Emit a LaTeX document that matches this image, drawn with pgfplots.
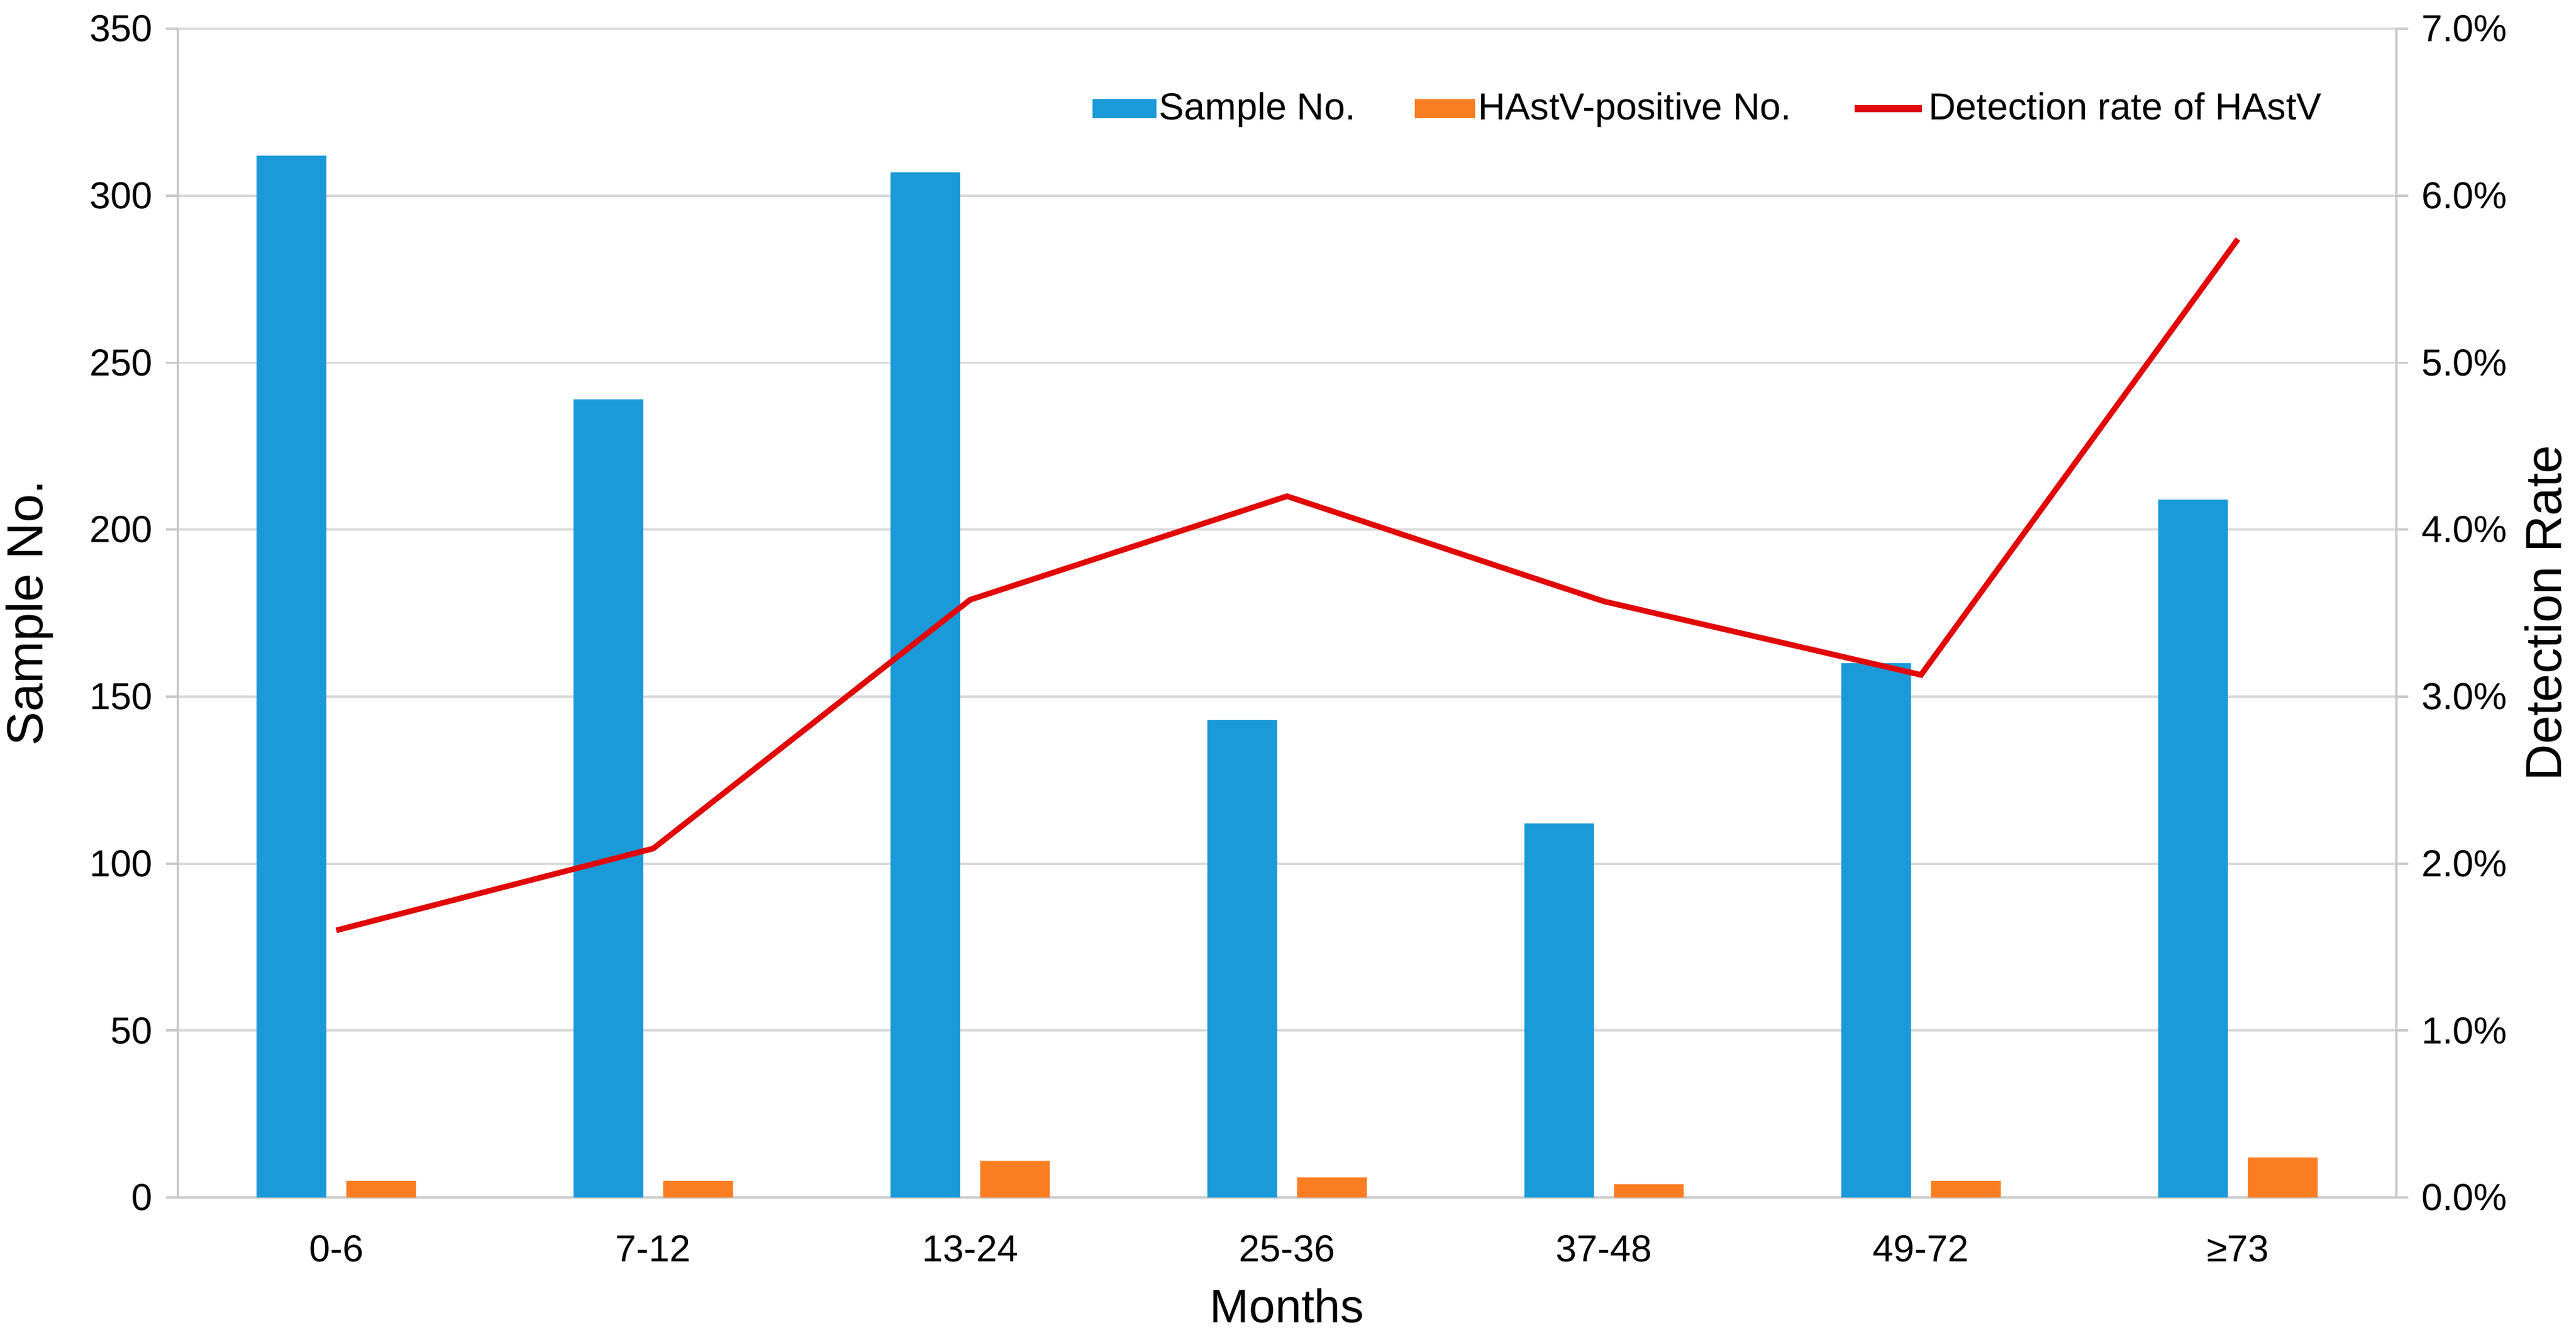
\documentclass[border=0pt]{standalone}
\usepackage{fontspec}
\setmainfont{Liberation Sans}
\usepackage{pgfplots}
\pgfplotsset{compat=1.18}
\definecolor{barblue}{RGB}{26,154,216}
\definecolor{barorange}{RGB}{250,125,34}
\definecolor{linered}{RGB}{225,8,8}
\definecolor{gridgray}{RGB}{217,217,217}
\definecolor{axisgray}{RGB}{200,200,200}
\begin{document}
\begin{tikzpicture}
\useasboundingbox (-47.30pt,-35.08pt) rectangle (637.94pt,318.42pt);
\pgfplotsset{
  base/.style={
    scale only axis, width=590.16pt, height=310.79pt,
    xmin=-0.5, xmax=6.5,
    /pgf/number format/assume math mode=true,
    tick label style={font=\fontsize{10}{12}\selectfont, text=black},
    tick align=outside, major tick length=3.2pt,
  }
}
\begin{axis}[base,
  ymin=0, ymax=350, ytick={0,50,...,350},
  axis y line*=left, axis x line*=bottom,
  axis line style={-, draw=axisgray, line width=0.6pt},
  xtick={0,...,6},
  xticklabels={0-6,7-12,13-24,25-36,37-48,49-72,≥73},
  xtick style={draw=none},
  ytick style={draw=axisgray, line width=0.6pt},
  ymajorgrids, grid style={gridgray, line width=0.6pt},
  xticklabel style={yshift=-3.3pt},
  ylabel={Sample No.},
  ylabel style={font=\fontsize{13.5}{16}\selectfont, at={(axis description cs:-0.0668,0.5)}, anchor=center},
  xlabel={Months},
  xlabel style={font=\fontsize{12.5}{15}\selectfont, at={(axis description cs:0.5,-0.0924)}, anchor=center},
]
\addplot[ybar, bar width=0.22, bar shift=-0.1415, fill=barblue, draw=none]
  coordinates {(0,312) (1,239) (2,307) (3,143) (4,112) (5,160) (6,209)};
\addplot[ybar, bar width=0.22, bar shift=0.1415, fill=barorange, draw=none]
  coordinates {(0,5) (1,5) (2,11) (3,6) (4,4) (5,5) (6,12)};
\end{axis}
\begin{axis}[base,
  ymin=0, ymax=7, ytick={0,...,7},
  axis y line*=right, axis x line=none,
  axis line style={-, draw=axisgray, line width=0.6pt},
  ytick style={draw=axisgray, line width=0.6pt},
  yticklabel={\pgfmathprintnumber[fixed,fixed zerofill,precision=1]{\tick}\%},
  ylabel={Detection Rate},
  ylabel style={font=\fontsize{13.5}{16}\selectfont, at={(axis description cs:1.0661,0.5)}, anchor=center},
  legend columns=3,
  legend style={at={(0.968,0.9316)}, anchor=east, draw=none, fill=none,
    font=\fontsize{10}{12}\selectfont, inner sep=0pt,
    nodes={inner sep=0.8pt},
    /tikz/every even column/.append style={column sep=15pt}},
]
\addlegendimage{legend image code/.code={\fill[barblue] (0pt,-2.4pt) rectangle (16.6pt,2.4pt);}}
\addlegendentry{Sample No.}
\addlegendimage{legend image code/.code={\fill[barorange] (0pt,-2.4pt) rectangle (15.6pt,2.4pt);}}
\addlegendentry{HAstV-positive No.}
\addplot[linered, line width=1.5pt,
  legend image code/.code={\draw[linered, line width=1.9pt] (0pt,0pt) -- (18pt,0pt);}]
  coordinates {(0,1.60) (1,2.09) (2,3.58) (3,4.20) (4,3.57) (5,3.13) (6,5.74)};
\addlegendentry{Detection rate of HAstV}
\end{axis}
\end{tikzpicture}
\end{document}
